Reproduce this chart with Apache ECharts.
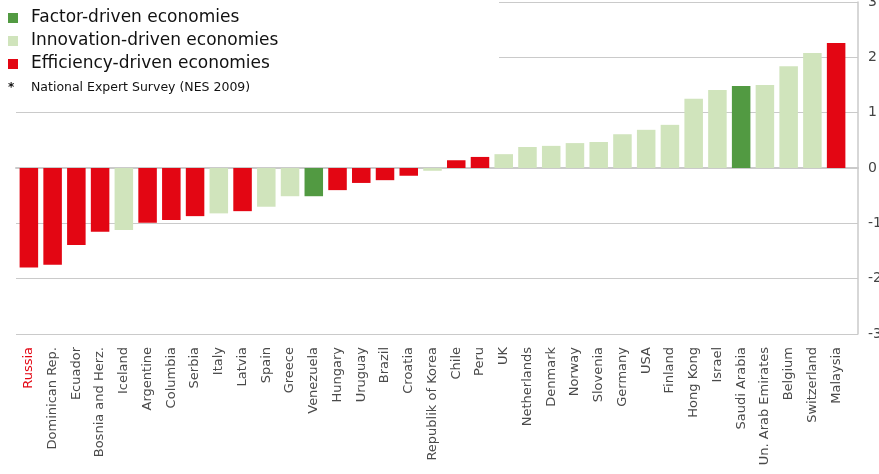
<!DOCTYPE html>
<html>
<head>
<meta charset="utf-8">
<script src="https://cdn.jsdelivr.net/npm/echarts@6/dist/echarts.min.js"></script>
<style>
  html, body { margin: 0; padding: 0; background: #fff; }
  #main { width: 879px; height: 474px; }
</style>
</head>
<body>
<div id="main"></div>
<script>
var myChart = echarts.init(document.getElementById('main'));

// countries, sorted by value
var countries = ['Russia', 'Dominican Rep.', 'Ecuador', 'Bosnia and Herz.', 'Iceland', 'Argentine',
    'Columbia', 'Serbia', 'Italy', 'Latvia', 'Spain', 'Greece', 'Venezuela', 'Hungary', 'Uruguay',
    'Brazil', 'Croatia', 'Republik of Korea', 'Chile', 'Peru', 'UK', 'Netherlands', 'Denmark',
    'Norway', 'Slovenia', 'Germany', 'USA', 'Finland', 'Hong Kong', 'Israel', 'Saudi Arabia',
    'Un. Arab Emirates', 'Belgium', 'Switzerland', 'Malaysia'];
var values = [-1.80, -1.75, -1.39, -1.15, -1.12, -0.99, -0.94, -0.87, -0.82, -0.78, -0.70, -0.51,
    -0.51, -0.40, -0.27, -0.22, -0.14, -0.05, 0.14, 0.20, 0.25, 0.38, 0.40, 0.45, 0.47, 0.61,
    0.69, 0.78, 1.25, 1.41, 1.48, 1.50, 1.84, 2.08, 2.26];
// F = factor-driven, I = innovation-driven, E = efficiency-driven
var groups = ['E', 'E', 'E', 'E', 'I', 'E', 'E', 'E', 'I', 'E', 'I', 'I', 'F', 'E', 'E', 'E', 'E', 'I',
    'E', 'E', 'I', 'I', 'I', 'I', 'I', 'I', 'I', 'I', 'I', 'I', 'F', 'I', 'I', 'I', 'E'];
var yTicks = [-3, -2, -1, 0, 1, 2, 3];

var legendNames = {F: 'Factor-driven economies', I: 'Innovation-driven economies', E: 'Efficiency-driven economies'};
var colors = {F: '#529a42', I: '#d0e4bc', E: '#e30613'};
var highlight = 'Russia';

var gridLine = '#cacaca';

function seriesFor(g) {
    return {
        name: legendNames[g],
        type: 'bar',
        stack: 'all',
        xAxisIndex: 0,
        yAxisIndex: 0,
        barWidth: '78%',
        itemStyle: {color: colors[g]},
        data: values.map(function (v, i) { return groups[i] === g ? v : '-'; })
    };
}

var option = {
    backgroundColor: '#fff',
    animation: false,
    legend: {
        orient: 'vertical',
        left: 8,
        top: 8,
        padding: 0,
        itemGap: 3,
        itemWidth: 10,
        itemHeight: 10,
        icon: 'rect',
        selectedMode: false,
        textStyle: {
            fontFamily: 'DejaVu Sans',
            fontSize: 17,
            color: '#111',
            lineHeight: 20,
            padding: [0, 0, 0, 8]
        },
        data: ['Factor-driven economies', 'Innovation-driven economies', 'Efficiency-driven economies']
    },
    graphic: [
        {type: 'rect', left: 0, top: 0, z: 1, shape: {width: 499, height: 100}, style: {fill: '#fff'}},
        {type: 'text', left: 8, top: 82, z: 5,
            style: {text: '*', font: 'bold 12px DejaVu Sans', fill: '#111'}},
        {type: 'text', left: 31, top: 81, z: 5,
            style: {text: 'National Expert Survey (NES 2009)', font: '12.5px DejaVu Sans', fill: '#111'}}
    ],
    grid: [
        {left: 17, right: 31, top: 2, bottom: 140, outerBoundsMode: 'none', containLabel: false},
        {left: 16, right: 21, top: 2, bottom: 140, outerBoundsMode: 'none', containLabel: false}
    ],
    xAxis: [
        {
            type: 'category',
            gridIndex: 0,
            data: countries.map(function (c) {
                return c === highlight ? {value: c, textStyle: {color: '#e30613'}} : c;
            }),
            axisLine: {show: false},
            axisTick: {show: false},
            axisLabel: {
                interval: 0,
                rotate: 90,
                margin: 13,
                fontFamily: 'DejaVu Sans',
                fontSize: 13,
                color: '#4a4a4a'
            }
        },
        {
            type: 'category',
            gridIndex: 1,
            data: [''],
            axisLine: {show: true, onZero: true, lineStyle: {color: gridLine, width: 2}},
            axisTick: {show: false},
            axisLabel: {show: false}
        }
    ],
    yAxis: [
        {
            type: 'value',
            gridIndex: 0,
            min: yTicks[0],
            max: yTicks[yTicks.length - 1],
            interval: 1,
            show: false
        },
        {
            type: 'value',
            gridIndex: 1,
            position: 'right',
            min: yTicks[0],
            max: yTicks[yTicks.length - 1],
            interval: 1,
            axisLine: {show: true, lineStyle: {color: gridLine, width: 1.5}},
            axisTick: {show: false},
            splitLine: {show: true, lineStyle: {color: gridLine, width: 1}},
            axisLabel: {
                margin: 10,
                fontFamily: 'DejaVu Sans',
                fontSize: 14,
                color: '#444'
            }
        }
    ],
    series: [seriesFor('F'), seriesFor('I'), seriesFor('E')]
};

myChart.setOption(option);
</script>
</body>
</html>
